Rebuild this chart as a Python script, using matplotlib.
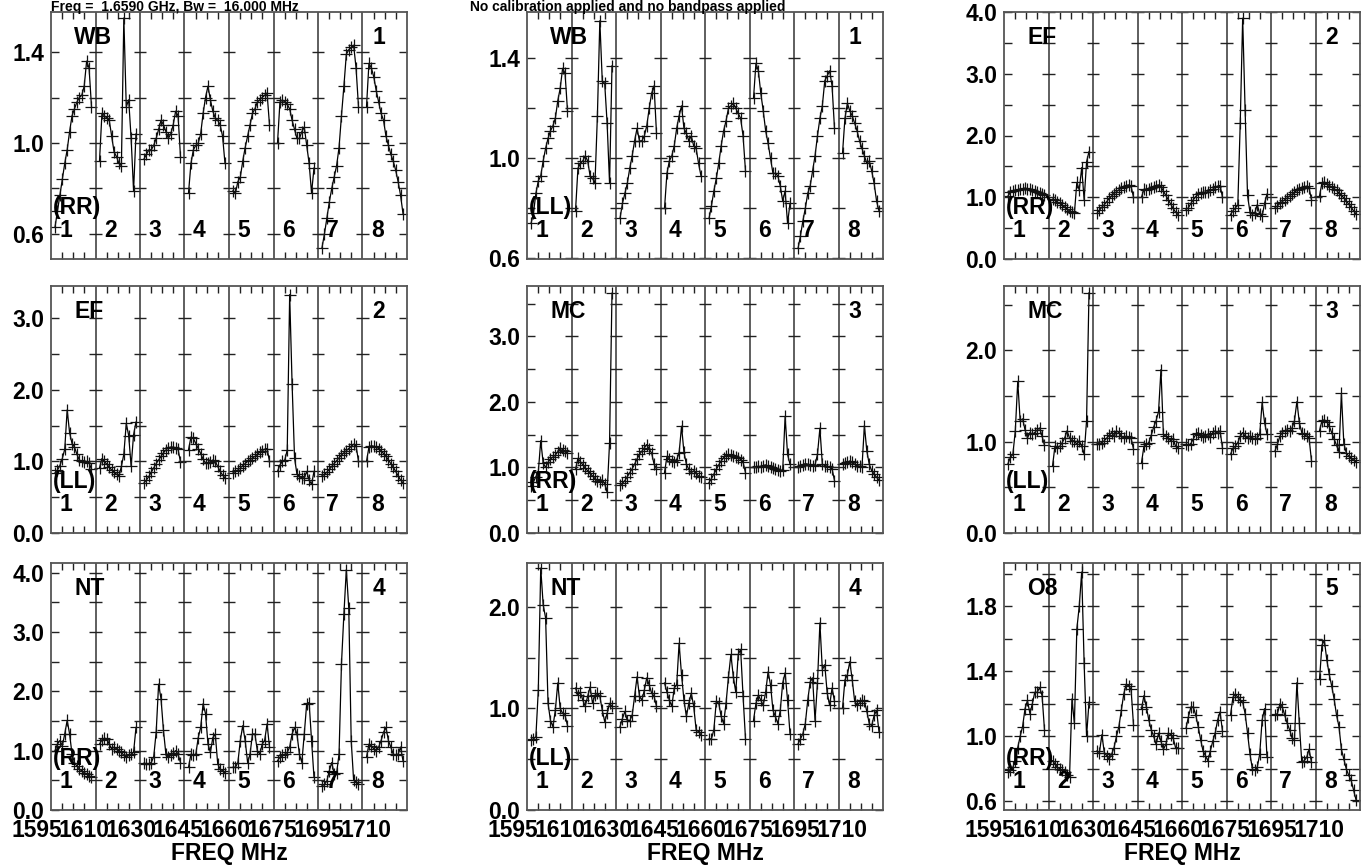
import matplotlib
matplotlib.use('Agg')
import matplotlib.pyplot as plt
from matplotlib.transforms import blended_transform_factory

plt.rcParams['font.family'] = ['Liberation Sans', 'DejaVu Sans']
plt.rcParams['font.weight'] = 'bold'

# ---------------- data ----------------
freq_labels = ['1595', '1610', '1630', '1645', '1660', '1675', '1695', '1710']
if_labels = ['1', '2', '3', '4', '5', '6', '7', '8']

wb_rr = [
    [0.63, 0.70, 0.77, 0.84, 0.91, 0.97, 1.05, 1.12, 1.15, 1.18, 1.20, 1.21, 1.25, 1.36, 1.33, 1.16],
    [0.92, 1.13, 1.12, 1.11, 1.10, 1.03, 0.96, 0.94, 0.91, 0.90, 1.55, 1.16, 1.19, 1.02, 0.79, 1.04],
    [0.93, 0.95, 0.97, 0.97, 0.99, 1.02, 1.06, 1.10, 1.08, 1.05, 1.02, 1.04, 1.08, 1.14, 1.12, 0.94],
    [0.78, 0.91, 0.97, 0.99, 1.00, 1.04, 1.13, 1.20, 1.25, 1.19, 1.14, 1.11, 1.10, 1.08, 1.03, 0.91],
    [0.79, 0.78, 0.83, 0.85, 0.92, 0.98, 1.03, 1.08, 1.13, 1.15, 1.18, 1.19, 1.20, 1.21, 1.22, 1.08],
    [1.00, 1.18, 1.19, 1.18, 1.17, 1.15, 1.10, 1.06, 1.02, 1.02, 1.05, 1.07, 0.99, 0.91, 0.78, 0.89],
    [0.54, 0.60, 0.67, 0.74, 0.80, 0.85, 0.90, 0.98, 1.12, 1.25, 1.39, 1.41, 1.42, 1.43, 1.33, 1.16],
    [1.16, 1.35, 1.33, 1.29, 1.23, 1.18, 1.13, 1.10, 1.03, 0.99, 0.95, 0.92, 0.88, 0.83, 0.77, 0.69],
]
wb_ll = [
    [0.74, 0.78, 0.86, 0.91, 0.93, 0.99, 1.04, 1.08, 1.11, 1.13, 1.16, 1.23, 1.28, 1.36, 1.34, 1.19],
    [0.79, 0.96, 0.98, 0.99, 1.01, 0.99, 0.93, 0.92, 0.90, 1.17, 1.55, 1.31, 1.30, 1.14, 0.90, 1.37],
    [0.76, 0.82, 0.86, 0.90, 0.96, 1.01, 1.07, 1.12, 1.07, 1.07, 1.09, 1.13, 1.20, 1.26, 1.29, 1.10],
    [0.80, 0.94, 0.99, 1.01, 1.05, 1.12, 1.17, 1.21, 1.12, 1.10, 1.07, 1.09, 1.05, 1.04, 0.98, 0.93],
    [0.76, 0.81, 0.87, 0.92, 0.98, 1.05, 1.11, 1.15, 1.20, 1.21, 1.22, 1.20, 1.18, 1.16, 1.09, 0.95],
    [1.24, 1.38, 1.35, 1.26, 1.19, 1.11, 1.06, 1.00, 0.94, 0.94, 0.93, 0.89, 0.83, 0.87, 0.74, 0.82],
    [0.64, 0.69, 0.75, 0.80, 0.86, 0.89, 0.95, 1.01, 1.09, 1.16, 1.21, 1.31, 1.33, 1.35, 1.29, 1.12],
    [1.02, 1.16, 1.22, 1.19, 1.17, 1.14, 1.11, 1.07, 1.04, 1.01, 0.98, 0.99, 0.95, 0.90, 0.83, 0.79],
]
ef_rr = [
    [1.02, 1.08, 1.10, 1.11, 1.12, 1.13, 1.14, 1.15, 1.14, 1.13, 1.12, 1.10, 1.09, 1.07, 1.06, 1.03],
    [0.97, 0.95, 0.92, 0.90, 0.87, 0.84, 0.81, 0.78, 0.76, 0.74, 1.24, 1.12, 1.48, 0.96, 1.57, 1.74],
    [0.74, 0.79, 0.84, 0.88, 0.93, 0.98, 1.02, 1.06, 1.09, 1.12, 1.15, 1.17, 1.19, 1.20, 1.18, 1.00],
    [1.00, 1.13, 1.12, 1.14, 1.15, 1.17, 1.19, 1.20, 1.17, 1.10, 1.03, 0.96, 0.89, 0.82, 0.76, 0.72],
    [0.80, 0.83, 0.90, 0.96, 1.01, 1.05, 1.07, 1.08, 1.08, 1.09, 1.11, 1.13, 1.16, 1.18, 1.19, 1.00],
    [0.72, 0.78, 0.83, 0.87, 2.20, 3.90, 2.42, 1.03, 0.76, 0.72, 0.75, 0.88, 0.73, 0.69, 0.90, 1.05],
    [0.83, 0.86, 0.90, 0.93, 0.96, 0.99, 1.02, 1.05, 1.08, 1.11, 1.13, 1.15, 1.17, 1.18, 1.15, 0.96],
    [1.02, 1.23, 1.25, 1.22, 1.19, 1.17, 1.14, 1.11, 1.07, 1.03, 0.99, 0.94, 0.89, 0.84, 0.78, 0.73],
]
ef_ll = [
    [0.84, 0.88, 0.94, 1.04, 1.17, 1.72, 1.40, 1.25, 1.20, 1.10, 1.02, 1.00, 0.99, 1.00, 0.98, 0.89],
    [0.91, 1.04, 1.00, 0.96, 0.92, 0.88, 0.85, 0.82, 0.80, 0.93, 1.10, 1.53, 1.36, 0.93, 1.37, 1.55],
    [0.70, 0.74, 0.79, 0.85, 0.91, 0.97, 1.02, 1.07, 1.12, 1.16, 1.19, 1.20, 1.20, 1.19, 1.17, 0.99],
    [1.16, 1.34, 1.32, 1.25, 1.18, 1.11, 1.03, 0.98, 0.98, 0.99, 1.02, 1.00, 0.93, 0.86, 0.81, 0.77],
    [0.84, 0.86, 0.88, 0.91, 0.94, 0.97, 1.00, 1.02, 1.05, 1.07, 1.10, 1.13, 1.15, 1.17, 1.18, 1.00],
    [0.86, 0.95, 1.00, 1.02, 1.16, 3.33, 2.08, 1.05, 0.82, 0.79, 0.77, 0.77, 0.86, 0.74, 0.68, 0.86],
    [0.80, 0.82, 0.85, 0.89, 0.93, 0.97, 1.01, 1.05, 1.09, 1.12, 1.15, 1.18, 1.21, 1.24, 1.22, 1.00],
    [1.00, 1.20, 1.22, 1.21, 1.20, 1.18, 1.15, 1.11, 1.07, 1.02, 0.97, 0.92, 0.86, 0.80, 0.74, 0.70],
]
mc_rr = [
    [0.72, 0.78, 0.86, 0.93, 1.41, 1.07, 1.00, 1.08, 1.13, 1.16, 1.19, 1.24, 1.30, 1.27, 1.25, 1.22],
    [0.97, 1.14, 1.09, 1.04, 0.99, 0.95, 0.91, 0.87, 0.83, 0.80, 0.78, 0.81, 0.75, 0.62, 1.38, 3.66],
    [0.73, 0.76, 0.80, 0.86, 0.92, 0.98, 1.05, 1.13, 1.20, 1.25, 1.30, 1.35, 1.28, 1.22, 1.05, 0.98],
    [0.92, 1.17, 1.13, 1.10, 1.08, 1.12, 1.22, 1.63, 1.23, 1.05, 0.97, 0.92, 0.95, 0.91, 0.87, 0.85],
    [0.77, 0.83, 0.90, 0.97, 1.04, 1.10, 1.15, 1.18, 1.20, 1.19, 1.18, 1.16, 1.15, 1.12, 1.08, 0.92],
    [1.00, 1.01, 1.02, 1.01, 1.03, 1.04, 1.02, 1.00, 0.99, 0.98, 0.96, 0.95, 0.96, 1.78, 1.20, 1.05],
    [1.00, 1.02, 1.04, 1.06, 1.05, 1.04, 1.03, 1.04, 1.20, 1.60, 1.05, 1.03, 1.02, 1.00, 0.98, 0.80],
    [1.05, 1.07, 1.08, 1.10, 1.08, 1.05, 1.03, 1.02, 1.00, 1.64, 1.25, 1.05, 0.95, 0.90, 0.85, 0.81],
]
mc_ll = [
    [0.76, 0.83, 0.86, 1.12, 1.66, 1.23, 1.25, 1.13, 1.04, 1.10, 1.08, 1.10, 1.13, 1.15, 1.06, 0.96],
    [0.73, 0.95, 0.93, 0.95, 0.99, 1.04, 1.12, 1.04, 1.01, 1.01, 0.97, 1.01, 0.95, 0.86, 1.23, 2.63],
    [0.97, 0.98, 0.99, 1.01, 1.04, 1.07, 1.10, 1.06, 1.12, 1.10, 1.06, 1.04, 1.06, 1.05, 1.04, 0.92],
    [0.77, 0.95, 0.97, 0.99, 1.07, 1.16, 1.23, 1.33, 1.79, 1.08, 1.06, 1.04, 1.01, 1.03, 0.95, 0.93],
    [0.97, 0.96, 0.98, 1.03, 1.08, 1.10, 1.07, 1.05, 1.06, 1.08, 1.05, 1.10, 1.12, 1.09, 1.12, 0.93],
    [0.86, 0.93, 0.95, 0.99, 1.06, 1.10, 1.06, 1.04, 1.06, 1.04, 1.03, 1.04, 1.08, 1.43, 1.21, 1.08],
    [0.90, 0.97, 1.06, 1.10, 1.12, 1.13, 1.12, 1.15, 1.23, 1.44, 1.21, 1.10, 1.08, 1.06, 1.04, 0.79],
    [1.12, 1.23, 1.24, 1.22, 1.17, 1.10, 1.03, 0.96, 0.89, 1.53, 0.98, 0.88, 0.84, 0.82, 0.80, 0.78],
]
nt_rr = [
    [1.00, 1.11, 1.17, 1.08, 1.28, 1.51, 1.28, 0.94, 0.80, 0.74, 0.69, 0.66, 0.63, 0.61, 0.58, 0.55],
    [1.11, 1.18, 1.21, 1.20, 1.11, 1.03, 1.06, 1.03, 1.00, 0.97, 0.92, 0.89, 0.92, 0.94, 0.97, 1.39],
    [0.79, 0.78, 0.78, 0.80, 0.90, 1.31, 2.12, 1.87, 1.34, 0.94, 0.89, 0.92, 0.96, 1.00, 0.94, 0.80],
    [0.72, 0.94, 0.92, 0.94, 1.22, 1.39, 1.79, 1.62, 1.11, 0.97, 1.22, 1.28, 0.78, 0.69, 0.66, 0.63],
    [0.72, 0.72, 0.80, 1.17, 1.42, 1.17, 0.80, 0.94, 1.28, 1.28, 1.00, 0.94, 1.11, 1.17, 1.45, 1.06],
    [0.83, 0.89, 0.92, 0.94, 0.97, 1.06, 1.28, 1.39, 1.28, 0.94, 0.80, 1.28, 1.79, 1.81, 1.17, 0.55],
    [0.41, 0.43, 0.49, 0.66, 0.80, 0.61, 0.62, 0.94, 2.46, 3.30, 4.05, 3.40, 1.17, 0.50, 0.47, 0.44],
    [0.89, 1.11, 1.08, 1.03, 1.00, 1.06, 1.17, 1.31, 1.39, 1.17, 1.06, 0.94, 0.92, 0.94, 1.06, 0.83],
]
nt_ll = [
    [0.69, 0.70, 0.72, 1.18, 2.38, 2.02, 1.89, 1.05, 0.88, 0.82, 0.98, 1.25, 1.00, 0.95, 0.93, 0.83],
    [1.20, 1.13, 1.16, 1.08, 1.02, 1.12, 1.21, 1.05, 1.13, 1.15, 1.12, 0.98, 0.87, 0.95, 1.05, 1.02],
    [0.82, 0.90, 0.97, 0.88, 0.88, 0.93, 1.12, 1.31, 1.12, 1.08, 1.18, 1.30, 1.23, 1.15, 1.12, 1.02],
    [1.25, 1.16, 1.08, 1.02, 1.20, 1.23, 1.64, 1.33, 1.08, 0.92, 1.05, 1.15, 1.02, 0.79, 0.77, 0.74],
    [0.70, 0.70, 0.79, 1.07, 1.05, 0.92, 0.85, 1.05, 1.31, 1.53, 1.31, 1.16, 1.53, 1.58, 1.12, 0.70],
    [0.88, 1.05, 1.13, 1.08, 1.03, 1.16, 1.36, 1.23, 0.98, 0.92, 0.85, 0.98, 1.25, 1.35, 1.08, 0.75],
    [0.65, 0.70, 0.75, 0.85, 1.08, 1.26, 1.30, 0.88, 1.25, 1.84, 1.38, 1.43, 1.15, 1.03, 1.20, 1.07],
    [1.00, 1.28, 1.33, 1.46, 1.28, 1.07, 1.03, 1.05, 1.08, 1.07, 0.97, 0.85, 0.83, 0.93, 0.98, 0.77],
]
o8_rr = [
    [0.78, 0.79, 0.81, 0.85, 0.93, 1.00, 1.06, 1.17, 1.22, 1.14, 1.20, 1.27, 1.27, 1.30, 1.25, 1.04],
    [0.85, 0.83, 0.81, 0.80, 0.79, 0.78, 0.76, 0.75, 1.23, 1.08, 1.66, 1.80, 2.01, 1.45, 1.00, 1.21],
    [0.91, 0.90, 1.01, 0.90, 0.88, 0.86, 0.89, 0.93, 1.00, 1.06, 1.16, 1.26, 1.32, 1.31, 1.29, 1.07],
    [1.17, 1.25, 1.18, 1.10, 1.04, 1.00, 0.95, 1.02, 0.97, 0.92, 0.95, 1.02, 1.01, 0.99, 0.93, 0.93],
    [1.05, 1.12, 1.18, 1.18, 1.13, 1.06, 0.98, 0.91, 0.88, 0.85, 0.91, 0.97, 1.02, 1.10, 1.15, 1.03],
    [1.13, 1.24, 1.26, 1.24, 1.22, 1.21, 1.14, 1.02, 0.89, 0.80, 0.79, 0.81, 0.89, 1.10, 1.17, 0.87],
    [1.13, 1.14, 1.20, 1.18, 1.13, 1.08, 1.04, 0.99, 0.98, 1.33, 1.08, 0.84, 0.85, 0.87, 0.92, 0.84],
    [1.35, 1.56, 1.59, 1.47, 1.38, 1.31, 1.23, 1.13, 1.06, 0.92, 0.86, 0.80, 0.76, 0.73, 0.67, 0.61],
]

panels = [
    dict(src='WB', pol='(RR)', num='1', data=wb_rr, ylim=(0.49, 1.576),
         major=[0.6, 1.0, 1.4], minor=[0.8, 1.2]),
    dict(src='WB', pol='(LL)', num='1', data=wb_ll, ylim=(0.598, 1.585),
         major=[0.6, 1.0, 1.4], minor=[0.8, 1.2]),
    dict(src='EF', pol='(RR)', num='2', data=ef_rr, ylim=(0.0, 4.0),
         major=[0.0, 1.0, 2.0, 3.0, 4.0], minor=[0.5, 1.5, 2.5, 3.5]),
    dict(src='EF', pol='(LL)', num='2', data=ef_ll, ylim=(0.0, 3.45),
         major=[0.0, 1.0, 2.0, 3.0], minor=[0.5, 1.5, 2.5]),
    dict(src='MC', pol='(RR)', num='3', data=mc_rr, ylim=(0.0, 3.77),
         major=[0.0, 1.0, 2.0, 3.0], minor=[0.5, 1.5, 2.5, 3.5]),
    dict(src='MC', pol='(LL)', num='3', data=mc_ll, ylim=(0.0, 2.705),
         major=[0.0, 1.0, 2.0], minor=[0.5, 1.5, 2.5]),
    dict(src='NT', pol='(RR)', num='4', data=nt_rr, ylim=(0.0, 4.16),
         major=[0.0, 1.0, 2.0, 3.0, 4.0], minor=[0.5, 1.5, 2.5, 3.5]),
    dict(src='NT', pol='(LL)', num='4', data=nt_ll, ylim=(0.0, 2.43),
         major=[0.0, 1.0, 2.0], minor=[0.5, 1.5]),
    dict(src='O8', pol='(RR)', num='5', data=o8_rr, ylim=(0.547, 2.065),
         major=[0.6, 1.0, 1.4, 1.8], minor=[0.8, 1.2, 1.6, 2.0]),
]

title_left = 'Freq =  1.6590 GHz, Bw =  16.000 MHz'
title_right = 'No calibration applied and no bandpass applied'

# ---------------- layout ----------------
W, H = 1372, 865
fig = plt.figure(figsize=(W / 100, H / 100), dpi=100)
col_left = [51, 527, 1004]
row_top = [12, 286, 563]
ax_w, ax_h = 356, 247
FS = 16.5
NIF = len(if_labels)
frame_col = '#555555'

for idx, p in enumerate(panels):
    r, c = divmod(idx, 3)
    ax = fig.add_axes([col_left[c] / W, 1 - (row_top[r] + ax_h) / H, ax_w / W, ax_h / H])
    ax.set_xlim(0, NIF)
    ax.set_ylim(*p['ylim'])
    for sp in ax.spines.values():
        sp.set_color(frame_col)
        sp.set_linewidth(1.3)

    for k, vals in enumerate(p['data']):
        n = len(vals)
        xs = [k + 0.09 + 0.82 * i / (n - 1) for i in range(n)]
        ax.plot(xs, vals, color='black', lw=0.9, marker='+', ms=8, mew=0.9,
                mec='#111111', clip_on=True)

    # IF separators
    for k in range(1, NIF):
        ax.axvline(k, color='#333333', lw=1.1)
    # y ticks crossing the separators
    ticks_all = [t for t in p['major'] + p['minor'] if p['ylim'][0] <= t <= p['ylim'][1]]
    for k in range(1, NIF):
        ax.hlines(ticks_all, k - 0.14, k + 0.14, color='#222222', lw=1.0)

    ax.set_yticks(p['major'])
    ax.set_yticklabels(['%.1f' % v for v in p['major']])
    ax.set_yticks(p['minor'], minor=True)
    ax.tick_params(axis='y', which='both', direction='in', length=6, width=1.0,
                   left=True, right=True, color='#222222', labelsize=FS, pad=5)
    ax.set_xticks([])
    ax.set_xticks([k + q for k in range(NIF) for q in (0.25, 0.5, 0.75)], minor=True)
    ax.tick_params(axis='x', which='minor', direction='in', length=5, width=1.0,
                   top=True, bottom=True, color='#222222', labelbottom=False)
    for lab in ax.get_yticklabels():
        lab.set_fontweight('bold')

    tr = blended_transform_factory(ax.transData, ax.transAxes)
    ax.text(0.065, 0.895, p['src'], transform=ax.transAxes, ha='left', va='center',
            fontsize=FS, fontweight='bold')
    ax.text(0.92, 0.895, p['num'], transform=ax.transAxes, ha='center', va='center',
            fontsize=FS, fontweight='bold')
    ax.text(0.004, 0.21, p['pol'], transform=ax.transAxes, ha='left', va='center',
            fontsize=FS, fontweight='bold')
    for k, lab in enumerate(if_labels):
        ax.text(k + 0.33, 0.115, lab, transform=tr, ha='center', va='center',
                fontsize=FS, fontweight='bold')

    if r == 2:
        for k, lab in enumerate(freq_labels):
            ax.text(-0.315 + 1.056 * k, -0.083, lab, transform=tr, ha='center',
                    va='center', fontsize=FS, fontweight='bold', clip_on=False)
        ax.text(0.5, -0.175, 'FREQ MHz', transform=ax.transAxes, ha='center',
                va='center', fontsize=FS, fontweight='bold')

fig.text(51 / W, 1 - 10.5 / H, title_left, ha='left', va='baseline', fontsize=10,
         fontweight='bold')
fig.text(470 / W, 1 - 10.5 / H, title_right, ha='left', va='baseline', fontsize=10,
         fontweight='bold')

fig.savefig('out.png', dpi=100)
